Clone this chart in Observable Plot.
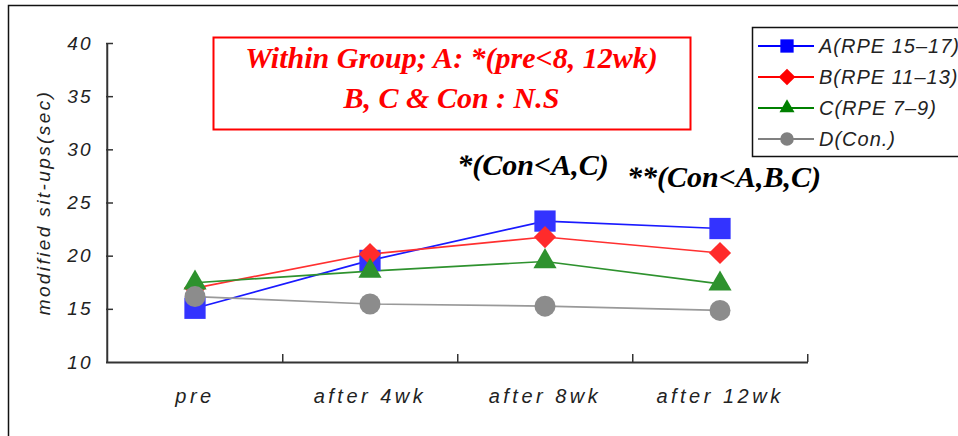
<!DOCTYPE html>
<html><head><meta charset="utf-8">
<script src="https://cdn.jsdelivr.net/npm/d3@7"></script>
<script src="https://cdn.jsdelivr.net/npm/@observablehq/plot@0.6"></script>
<style>
html,body{margin:0;padding:0;background:#fff;}
#chart{position:relative;width:958px;height:436px;overflow:hidden;background:#fff;}
g[aria-label="y-axis tick label"] text{letter-spacing:2px;}
g[aria-label="x-axis tick label"] text{letter-spacing:3.5px;}
</style></head><body><div id="chart"></div>
<script>
const categories = ["pre", "after 4wk", "after 8wk", "after 12wk"];
const seriesNames = ["A(RPE 15–17)", "B(RPE 11–13)", "C(RPE 7–9)", "D(Con.)"];
const valuesA = [15.1, 19.6, 23.3, 22.6];
const valuesB = [17.0, 20.2, 21.8, 20.3];
const valuesC = [17.5, 18.6, 19.5, 17.4];
const valuesD = [16.2, 15.5, 15.3, 14.9];
const yTicks = [10, 15, 20, 25, 30, 35, 40];
const yLabel = "modified sit-ups(sec)";
const statNote = ["Within Group; A: *(pre<8, 12wk)", "B, C & Con : N.S"];
const noteCats = ["after 8wk", "after 12wk"];
const noteValues = [28.5, 27.4];
const noteTexts = ["*(Con<A,C)", "**(Con<A,B,C)"];

const markColors = ["#3333ff", "#ff2b2b", "#2e922e", "#8c8c8c"];
const lineColors = ["#1a1aff", "#ff3030", "#2e922e", "#999999"];
const legendColors = ["#0000ff", "#ff0000", "#008000", "#808080"];
const symbols = ["square", "diamond2", "triangle", "circle"];
const radii = [12, 10, 8.6, 10.5];

const W = 958, H = 436;
const mL = 106, mR = 150, mT = 43, mB = 74;
const bw = (W - mL - mR) / categories.length;
const sans = "'Liberation Sans', Arial, sans-serif";
const serif = "'Liberation Serif', 'Times New Roman', serif";

const seriesValues = [valuesA, valuesB, valuesC, valuesD];
const rows = seriesNames.flatMap((s, i) => categories.map((c, j) => ({series: s, idx: i, cat: c, value: seriesValues[i][j]})));
const notes = noteTexts.map((t, i) => ({cat: noteCats[i], value: noteValues[i], text: t}));

const lineMarks = seriesNames.map((s, i) => Plot.line(rows.filter(d => d.idx === i), {x: "cat", y: "value", stroke: lineColors[i], strokeWidth: 1.7}));
const dotMarks = seriesNames.map((s, i) => Plot.dot(rows.filter(d => d.idx === i), {x: "cat", y: "value", symbol: () => symbols[i], r: radii[i], fill: markColors[i], stroke: "none"}));
const noteStyle = {x: "cat", y: "value", text: "text", fontSize: 30, fontWeight: "bold", fontStyle: "italic", fontFamily: serif, fill: "#000", lineAnchor: "middle"};

const plot = Plot.plot({
  width: W, height: H,
  marginLeft: mL, marginRight: mR, marginTop: mT, marginBottom: mB,
  style: {background: "transparent", overflow: "visible"},
  x: {type: "band", domain: categories, padding: 0},
  y: {domain: [10, 40]},
  symbol: {type: "identity"},
  marks: [
    Plot.ruleY([yTicks[0]], {stroke: "#333", strokeWidth: 2}),
    Plot.ruleX([categories[0]], {dx: -bw / 2, stroke: "#333", strokeWidth: 2}),
    Plot.ruleY(yTicks.slice(1), {stroke: "#333", strokeWidth: 1.5, insetRight: W - mL - mR - 7}),
    Plot.ruleX(categories, {dx: bw / 2, stroke: "#333", strokeWidth: 1.5, insetTop: H - mT - mB - 8}),
    Plot.axisY({ticks: yTicks, tickSize: 0, tickPadding: 14, fontSize: 19, fontStyle: "italic", fontFamily: sans, fill: "#222", label: null}),
    Plot.axisX({tickSize: 0, tickPadding: 26, fontSize: 20, fontStyle: "italic", fontFamily: sans, fill: "#222", label: null}),
    ...lineMarks,
    ...dotMarks,
    Plot.text(notes.slice(0, 1), {...noteStyle, dx: -12}),
    Plot.text(notes.slice(1), {...noteStyle, dx: 4})
  ]
});

const root = document.getElementById("chart");
root.appendChild(plot);
const svg = d3.select(plot);

// outer frame
svg.insert("rect", ":first-child").attr("x", 8.5).attr("y", 5.5).attr("width", 1200).attr("height", 1200)
  .attr("fill", "none").attr("stroke", "#111").attr("stroke-width", 1.5);

// y label
svg.append("text").attr("transform", `translate(${mL - 56},${(mT + H - mB) / 2}) rotate(-90)`)
  .attr("text-anchor", "middle").attr("font-family", sans).attr("font-style", "italic").attr("font-size", 19)
  .attr("fill", "#222").style("letter-spacing", "2.4px").text(yLabel);

// stat note box
const bx = 213, by = 37, bW = 477, bH = 92;
svg.append("rect").attr("x", bx + 0.5).attr("y", by + 0.5).attr("width", bW).attr("height", bH)
  .attr("fill", "#fff").attr("stroke", "#ff0000").attr("stroke-width", 2);
statNote.forEach((t, i) => {
  svg.append("text").attr("x", bx + bW / 2).attr("y", by + 31 + i * 40).attr("text-anchor", "middle")
    .attr("font-family", serif).attr("font-weight", "bold").attr("font-style", "italic").attr("font-size", 30)
    .attr("fill", "#ff0000").text(t);
});

// legend
const lg = svg.append("g").attr("text-anchor", "start");
const lx = 752, ly = 27;
lg.append("rect").attr("x", lx + 0.5).attr("y", ly + 0.5).attr("width", 400).attr("height", 129)
  .attr("fill", "#fff").attr("stroke", "#111").attr("stroke-width", 1.5);
const legendSizes = [7.5, 7.5, 5.6, 6.8];
seriesNames.forEach((s, i) => {
  const cy = ly + 19 + i * 31;
  lg.append("line").attr("x1", lx + 6).attr("x2", lx + 62).attr("y1", cy).attr("y2", cy)
    .attr("stroke", legendColors[i]).attr("stroke-width", 2);
  const sym = {square: d3.symbolSquare, diamond2: d3.symbolDiamond2, triangle: d3.symbolTriangle, circle: d3.symbolCircle}[symbols[i]];
  const lr = legendSizes[i];
  lg.append("path").attr("transform", `translate(${lx + 35},${cy})`)
    .attr("d", d3.symbol(sym, Math.PI * lr * lr)()).attr("fill", legendColors[i]);
  lg.append("text").attr("x", lx + 67).attr("y", cy).attr("dy", "0.36em").attr("text-anchor", "start")
    .attr("font-family", sans).attr("font-style", "italic").attr("font-size", 20)
    .attr("fill", "#222").style("letter-spacing", "1px").text(s);
});
</script></body></html>
